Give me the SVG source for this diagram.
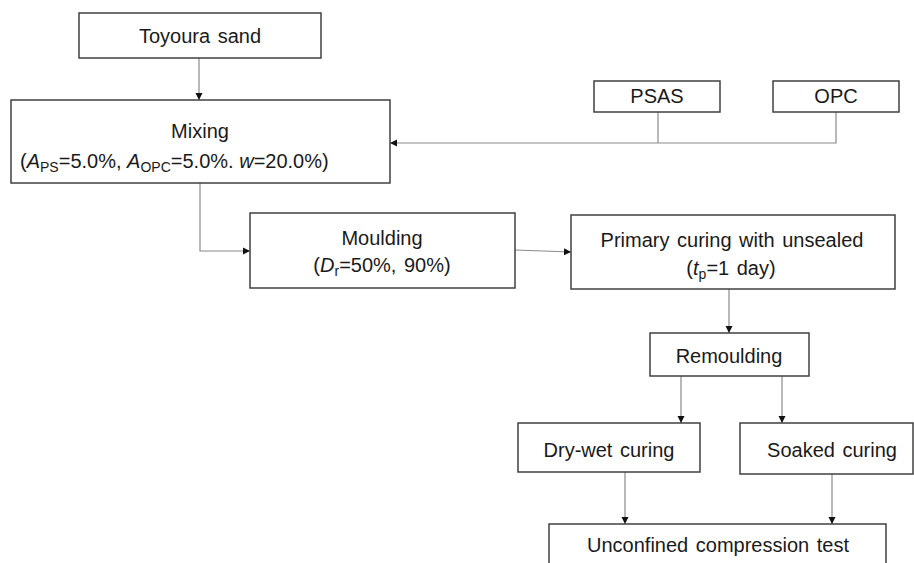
<svg xmlns="http://www.w3.org/2000/svg" width="914" height="563" viewBox="0 0 914 563">
<style>
.box{fill:#fff;stroke:#404040;stroke-width:1.5}
.t{font-family:"Liberation Sans",Arial,sans-serif;font-size:20px;fill:#1a1a1a;text-anchor:middle;word-spacing:2px}
.s{font-size:14px}
.c{fill:none;stroke:#8a8a8a;stroke-width:1.2}
</style>
<defs>
<marker id="ah" markerWidth="8" markerHeight="8" refX="7" refY="4" orient="auto" markerUnits="userSpaceOnUse">
<path d="M0,0.5 L7,4 L0,7.5 Z" fill="#111"/>
</marker>
</defs>
<rect width="914" height="563" fill="#fff"/>
<g id="connectors">
<path class="c" d="M199,58 V100" marker-end="url(#ah)"/>
<path class="c" d="M658,112 V143 M836,112 V143 H390" marker-end="url(#ah)"/>
<path class="c" d="M200,183 V251 H250" marker-end="url(#ah)"/>
<path class="c" d="M515,250 L571,252" marker-end="url(#ah)"/>
<path class="c" d="M729,289 V333" marker-end="url(#ah)"/>
<path class="c" d="M681,376 V423" marker-end="url(#ah)"/>
<path class="c" d="M782,376 V423" marker-end="url(#ah)"/>
<path class="c" d="M625,472 V524" marker-end="url(#ah)"/>
<path class="c" d="M832,474 V524" marker-end="url(#ah)"/>
</g>
<g id="toyoura">
<rect class="box" x="79" y="13" width="242" height="45"/>
<text class="t" x="200" y="43">Toyoura sand</text>
</g>
<g id="mixing">
<rect class="box" x="11" y="100" width="379" height="83"/>
<text class="t" x="200" y="138">Mixing</text>
<text class="t" x="20" y="168" style="text-anchor:start;word-spacing:0">(<tspan font-style="italic">A</tspan><tspan class="s" dy="4">PS</tspan><tspan dy="-4">=5.0%, </tspan><tspan font-style="italic">A</tspan><tspan class="s" dy="4">OPC</tspan><tspan dy="-4">=5.0%. </tspan><tspan font-style="italic">w</tspan>=20.0%)</text>
</g>
<g id="psas">
<rect class="box" x="594" y="81" width="126" height="31"/>
<text class="t" x="657" y="103">PSAS</text>
</g>
<g id="opc">
<rect class="box" x="773" y="81" width="126" height="31"/>
<text class="t" x="836" y="103">OPC</text>
</g>
<g id="moulding">
<rect class="box" x="250" y="213" width="265" height="75"/>
<text class="t" x="382" y="245">Moulding</text>
<text class="t" x="382" y="272">(<tspan font-style="italic">D</tspan><tspan class="s" dy="4">r</tspan><tspan dy="-4">=50%, 90%)</tspan></text>
</g>
<g id="primary">
<rect class="box" x="571" y="215" width="324" height="74"/>
<text class="t" x="732" y="247">Primary curing with unsealed</text>
<text class="t" x="731" y="275">(<tspan font-style="italic">t</tspan><tspan class="s" dy="4">p</tspan><tspan dy="-4">=1 day)</tspan></text>
</g>
<g id="remoulding">
<rect class="box" x="650" y="333" width="159" height="43"/>
<text class="t" x="729" y="363">Remoulding</text>
</g>
<g id="drywet">
<rect class="box" x="518" y="423" width="182" height="49"/>
<text class="t" x="609" y="457">Dry-wet curing</text>
</g>
<g id="soaked">
<rect class="box" x="740" y="423" width="173" height="51"/>
<text class="t" x="832" y="457">Soaked curing</text>
</g>
<g id="ucs">
<rect class="box" x="549" y="524" width="337" height="50"/>
<text class="t" x="718" y="552">Unconfined compression test</text>
</g>
</svg>
